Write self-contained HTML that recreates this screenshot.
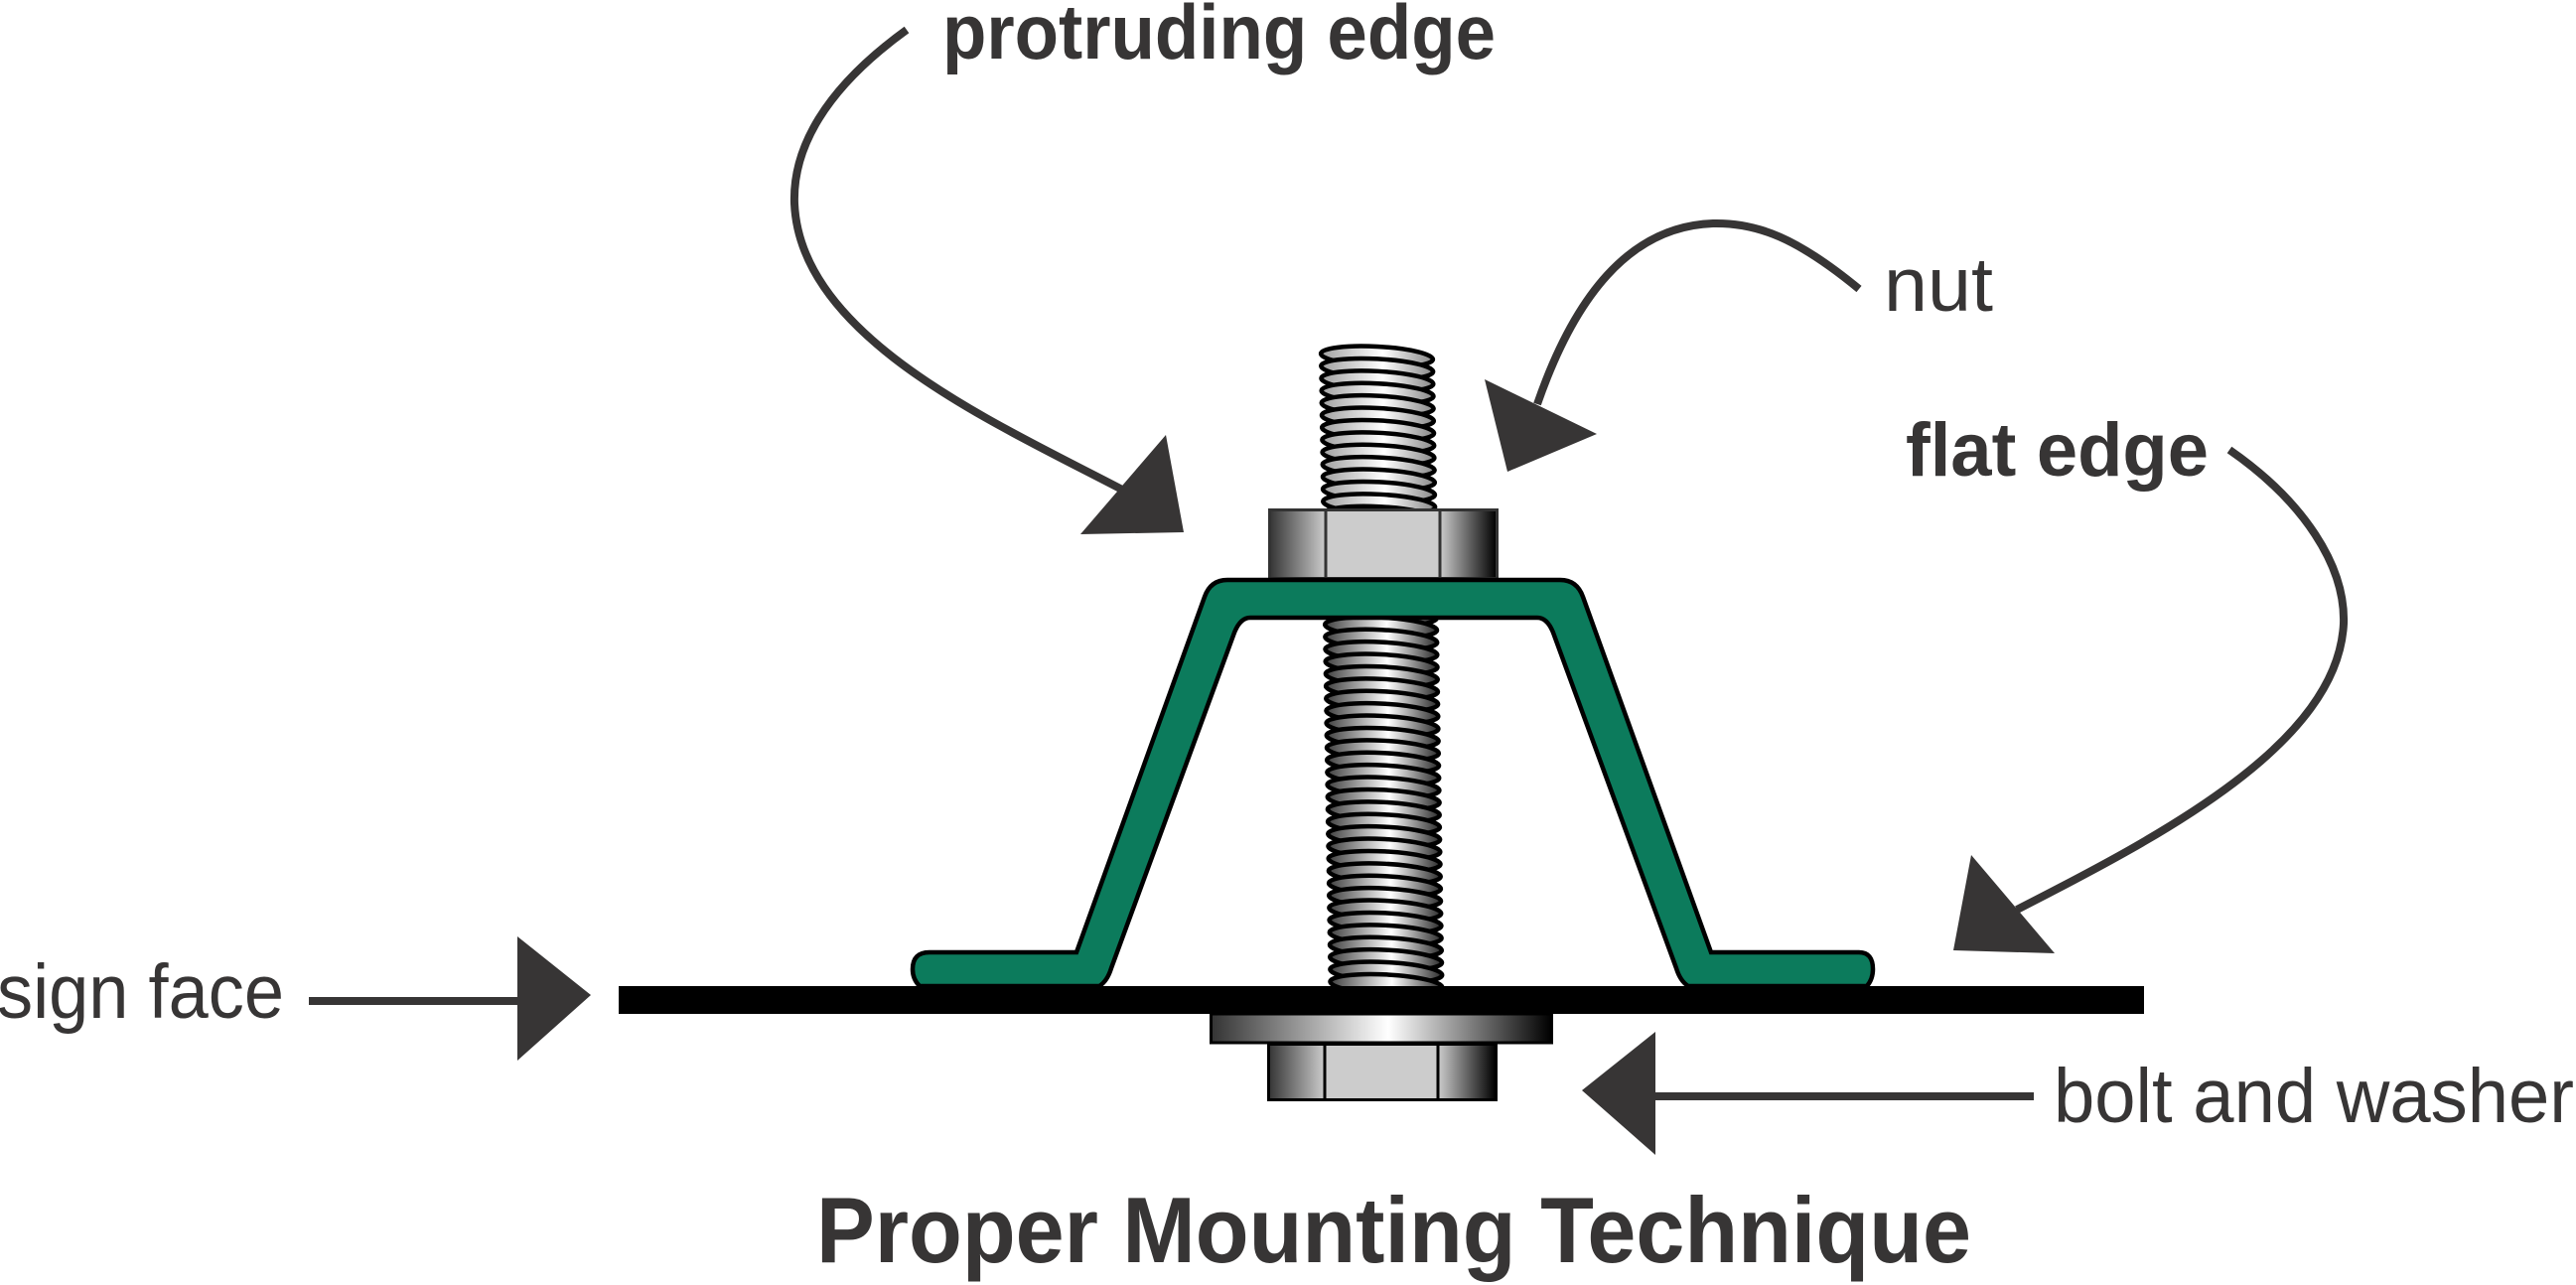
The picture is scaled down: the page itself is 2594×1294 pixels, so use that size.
<!DOCTYPE html>
<html><head><meta charset="utf-8"><title>Proper Mounting Technique</title>
<style>html,body{margin:0;padding:0;background:#fff}svg{display:block}text{font-family:"Liberation Sans",sans-serif;fill:#373535}</style></head>
<body>
<svg width="2594" height="1294" viewBox="0 0 2594 1294" xmlns="http://www.w3.org/2000/svg">
<defs>
<linearGradient id="tl"><stop offset="0" stop-color="#a0a0a0"/><stop offset=".55" stop-color="#fff"/><stop offset="1" stop-color="#888"/></linearGradient>
<linearGradient id="td"><stop offset="0" stop-color="#404040"/><stop offset=".55" stop-color="#fff"/><stop offset="1" stop-color="#2c2c2c"/></linearGradient>
<linearGradient id="lp"><stop offset="0" stop-color="#333"/><stop offset="1" stop-color="#ccc"/></linearGradient>
<linearGradient id="rp"><stop offset="0" stop-color="#ccc"/><stop offset="1" stop-color="#000"/></linearGradient>
<linearGradient id="wa"><stop offset="0" stop-color="#333"/><stop offset=".52" stop-color="#fff"/><stop offset="1" stop-color="#000"/></linearGradient>
<ellipse id="a" rx="56.5" ry="10" transform="rotate(3)" fill="url(#tl)" stroke="#000" stroke-width="4.5"/>
<ellipse id="b" rx="56.5" ry="10" transform="rotate(3)" fill="url(#td)" stroke="#000" stroke-width="4.5"/>
</defs>
<rect width="2594" height="1294" fill="#fff"/>

<g>
<use href="#a" x="1386.5" y="359"/><use href="#a" x="1386.7" y="371.4"/><use href="#a" x="1386.9" y="383.8"/><use href="#a" x="1387.1" y="396.2"/><use href="#a" x="1387.2" y="408.6"/><use href="#a" x="1387.4" y="421"/><use href="#a" x="1387.6" y="433.4"/><use href="#a" x="1387.8" y="445.8"/><use href="#a" x="1388" y="458.2"/><use href="#a" x="1388.2" y="470.6"/><use href="#a" x="1388.4" y="483"/><use href="#a" x="1388.5" y="495.4"/><use href="#a" x="1388.7" y="507.8"/><use href="#a" x="1388.9" y="520.2"/>
<use href="#b" x="1390.2" y="607"/><use href="#b" x="1390.4" y="619.4"/><use href="#b" x="1390.6" y="631.8"/><use href="#b" x="1390.8" y="644.2"/><use href="#b" x="1390.9" y="656.6"/><use href="#b" x="1391.1" y="669"/><use href="#b" x="1391.3" y="681.4"/><use href="#b" x="1391.5" y="693.8"/><use href="#b" x="1391.7" y="706.2"/><use href="#b" x="1391.9" y="718.6"/><use href="#b" x="1392" y="731"/><use href="#b" x="1392.2" y="743.4"/><use href="#b" x="1392.4" y="755.8"/><use href="#b" x="1392.6" y="768.2"/><use href="#b" x="1392.8" y="780.6"/><use href="#b" x="1393" y="793"/><use href="#b" x="1393.2" y="805.4"/><use href="#b" x="1393.3" y="817.8"/><use href="#b" x="1393.5" y="830.2"/><use href="#b" x="1393.7" y="842.6"/><use href="#b" x="1393.9" y="855"/><use href="#b" x="1394.1" y="867.4"/><use href="#b" x="1394.3" y="879.8"/><use href="#b" x="1394.5" y="892.2"/><use href="#b" x="1394.6" y="904.6"/><use href="#b" x="1394.8" y="917"/><use href="#b" x="1395" y="929.4"/><use href="#b" x="1395.2" y="941.8"/><use href="#b" x="1395.4" y="954.2"/><use href="#b" x="1395.6" y="966.6"/><use href="#b" x="1395.8" y="979"/><use href="#b" x="1395.9" y="991.4"/>
</g>

<!-- top nut -->
<rect x="1278" y="513" width="57" height="70" fill="url(#lp)"/>
<rect x="1335" y="513" width="115" height="70" fill="#ccc"/>
<rect x="1450" y="513" width="57" height="70" fill="url(#rp)"/>
<rect x="1278.5" y="513.5" width="229" height="69" fill="none" stroke="#333" stroke-width="3"/>
<path d="M1335 513V583M1450 513V583" stroke="#333" stroke-width="3" fill="none"/>

<!-- green channel -->
<path d="M936 959H1084L1213 601Q1219 584 1236 584H1571Q1588 584 1594 601L1723 959H1872Q1886 959 1886 976Q1886 986 1880 993H1700Q1692 988 1688 975L1564 637Q1558 622 1548 622H1259Q1249 622 1243 637L1119 975Q1115 988 1107 993H926Q919 986 919 976Q919 959 936 959Z" fill="#0c7b5c" stroke="#000" stroke-width="4.5" stroke-linejoin="miter"/>

<!-- sign face -->
<rect x="623" y="993" width="1536" height="28" fill="#000"/>

<!-- washer -->
<rect x="1219.5" y="1021" width="343" height="29" fill="url(#wa)" stroke="#000" stroke-width="3"/>
<!-- bolt head -->
<rect x="1277" y="1052" width="57" height="55" fill="url(#lp)"/>
<rect x="1334" y="1052" width="114" height="55" fill="#ccc"/>
<rect x="1448" y="1052" width="58" height="55" fill="url(#rp)"/>
<rect x="1277.5" y="1051.5" width="229" height="56" fill="none" stroke="#000" stroke-width="3"/>
<path d="M1334 1051V1108M1448 1051V1108" stroke="#000" stroke-width="3" fill="none"/>

<!-- leaders -->
<g fill="none" stroke="#373535" stroke-width="8">
<path d="M913 30C830 90 798 150 800 205C806 340 1000 425 1130 493"/>
<path d="M1872 291C1810 240 1770 224 1725 225C1640 228 1585 300 1548 407"/>
<path d="M2245 453C2320 505 2362 570 2360 628C2354 748 2180 840 2031 916"/>
<path d="M311 1008H525"/>
<path d="M2048 1104H1660"/>
</g>
<g fill="#373535">
<path d="M1174 438L1192 536L1088 538Z"/>
<path d="M1495 382L1608 437L1518 475Z"/>
<path d="M1985 861L2069 960L1967 957Z"/>
<path d="M521 943L595 1002L521 1068Z"/>
<path d="M1667 1039L1593 1098L1667 1163Z"/>
</g>

<!-- labels -->
<g>
<text x="949" y="59" font-size="78" font-weight="700" textLength="557" lengthAdjust="spacingAndGlyphs">protruding edge</text>
<text x="1897" y="313" font-size="77" textLength="110" lengthAdjust="spacingAndGlyphs">nut</text>
<text x="1919" y="479" font-size="76" font-weight="700" textLength="305" lengthAdjust="spacingAndGlyphs">flat edge</text>
<text x="-3" y="1025" font-size="77" textLength="289" lengthAdjust="spacingAndGlyphs">sign face</text>
<text x="2068" y="1130" font-size="77" textLength="524" lengthAdjust="spacingAndGlyphs">bolt and washer</text>
<text x="822" y="1271" font-size="94" font-weight="700" textLength="1163" lengthAdjust="spacingAndGlyphs">Proper Mounting Technique</text>
</g>
</svg>
</body></html>
